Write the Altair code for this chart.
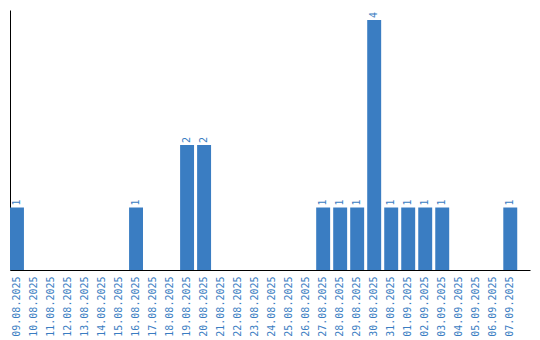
import altair as alt
import pandas as pd

dates = ["09.08.2025", "10.08.2025", "11.08.2025", "12.08.2025", "13.08.2025",
         "14.08.2025", "15.08.2025", "16.08.2025", "17.08.2025", "18.08.2025",
         "19.08.2025", "20.08.2025", "21.08.2025", "22.08.2025", "23.08.2025",
         "24.08.2025", "25.08.2025", "26.08.2025", "27.08.2025", "28.08.2025",
         "29.08.2025", "30.08.2025", "31.08.2025", "01.09.2025", "02.09.2025",
         "03.09.2025", "04.09.2025", "05.09.2025", "06.09.2025", "07.09.2025"]
counts = [1, 0, 0, 0, 0, 0, 0, 1, 0, 0,
          2, 2, 0, 0, 0, 0, 0, 0, 1, 1,
          1, 4, 1, 1, 1, 1, 0, 0, 0, 1]

df = pd.DataFrame({"date": dates, "count": counts})
df["label"] = df["count"].apply(lambda v: str(v) if v > 0 else "")

BLUE = "#3a7dc2"
FONT = "DejaVu Sans Mono"

x = alt.X("date:N", sort=dates, title=None,
          scale=alt.Scale(paddingInner=0.18, paddingOuter=0.375, align=0),
          axis=alt.Axis(labelAngle=270, labelFont=FONT, labelFontSize=10,
                        labelColor=BLUE, ticks=False, labelPadding=6,
                        domainColor="black", domainWidth=1, grid=False))
y = alt.Y("count:Q", title=None,
          scale=alt.Scale(domain=[0, 4.16], nice=False),
          axis=alt.Axis(labels=False, ticks=False, grid=False,
                        domainColor="black", domainWidth=1))

bars = alt.Chart(df).mark_bar(color=BLUE).encode(x=x, y=y)
text = alt.Chart(df).mark_text(angle=270, align="left", baseline="middle",
                               dx=2, font=FONT, fontSize=10, color=BLUE).encode(
    x=alt.X("date:N", sort=dates), y="count:Q", text="label:N")

chart = (bars + text).properties(
    width=520, height=260,
    background="white",
    autosize=alt.AutoSizeParams(type="none"),
    padding={"left": 10, "top": 10, "right": 10, "bottom": 70},
).configure_view(stroke="transparent", strokeWidth=0)

chart.save("out.html", embed_options={"renderer": "svg", "actions": False})
